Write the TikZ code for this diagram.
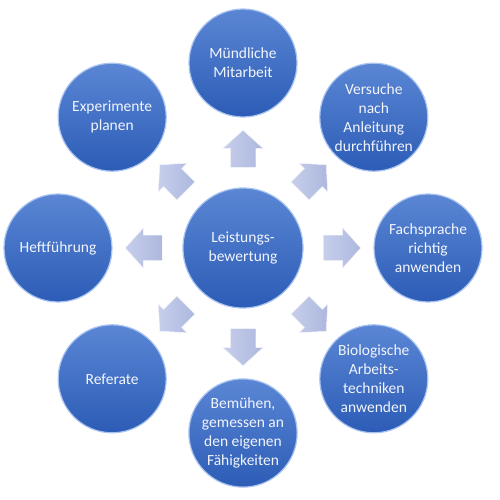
\documentclass[tikz,border=0pt]{standalone}
\usepackage{fontspec}
\setmainfont{Carlito}
\usetikzlibrary{shapes.arrows,calc}
\definecolor{ctop}{HTML}{5A86D4}
\definecolor{cbot}{HTML}{2C5CB6}
\definecolor{crim}{HTML}{A9C4F0}
\definecolor{arr}{HTML}{ADB8DE}
\definecolor{arrl}{HTML}{C6CEEB}
\definecolor{txt}{HTML}{F2F5FC}
\tikzset{
  bubble/.style={circle, minimum size=108pt, inner sep=0pt, top color=ctop, bottom color=cbot,
    draw=crim, line width=1.2pt, text=txt, align=center, font=\fontsize{15.5}{19}\selectfont},
  hub/.style={bubble, minimum size=120pt},
  blockarrow/.style={single arrow, minimum height=37pt, minimum width=40pt,
    single arrow head extend=7.5pt, single arrow tip angle=96, inner xsep=0pt, inner ysep=12.5pt,
    left color=arrl, right color=arr, draw=white!85!arr, line width=0.5pt}
}
\begin{document}
\begin{tikzpicture}
\useasboundingbox (0,0) rectangle (500pt,500pt);
\node[hub] (hub) at (243pt,252pt) {Leistungs-\\bewertung};
\node[bubble] (n1) at ($(hub)+(90:185pt)$) {Mündliche\\Mitarbeit};
\node[bubble] (n2) at ($(hub)+(45:185pt)$) {Versuche\\nach\\Anleitung\\durchführen};
\node[bubble] (n3) at ($(hub)+(0:185pt)$) {Fachsprache\\richtig\\anwenden};
\node[bubble] (n4) at ($(hub)+(-45:185pt)$) {Biologische\\Arbeits-\\techniken\\anwenden};
\node[bubble] (n5) at ($(hub)+(-90:185pt)$) {Bemühen,\\gemessen an\\den eigenen\\Fähigkeiten};
\node[bubble] (n6) at ($(hub)+(-135:185pt)$) {Referate};
\node[bubble] (n7) at ($(hub)+(180:185pt)$) {Heftführung};
\node[bubble] (n8) at ($(hub)+(135:185pt)$) {Experimente\\planen};
\foreach \i/\a in {1/90,2/45,3/0,4/-45,5/-90,6/-135,7/180,8/135}{
  \node[blockarrow, rotate=\a] (a\i) at ($(hub)!93.5pt!(n\i)$) {};
}
\end{tikzpicture}
\end{document}
